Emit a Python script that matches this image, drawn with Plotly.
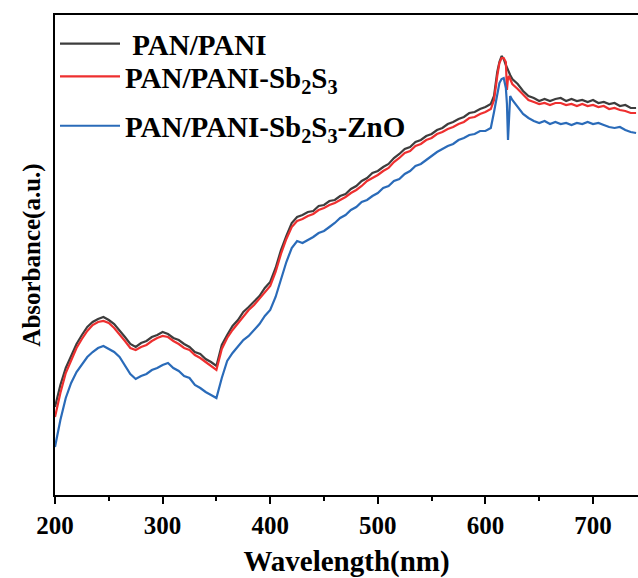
import plotly.graph_objects as go

# Wavelength grid (nm), shared by all three spectra
wavelength = list(range(200, 610, 5)) + [608, 611, 613, 615, 617, 619, 620, 621, 622, 623] + list(range(625, 745, 5))

# UV-Vis absorbance (a.u.)
pan_pani = [
    0.88, 1.10, 1.27, 1.39, 1.51, 1.60, 1.68, 1.73, 1.76, 1.78,
    1.75, 1.71, 1.65, 1.58, 1.51, 1.48, 1.52, 1.54, 1.58, 1.60,
    1.63, 1.61, 1.57, 1.55, 1.51, 1.48, 1.43, 1.41, 1.36, 1.33,
    1.29, 1.50, 1.60, 1.69, 1.75, 1.83, 1.88, 1.94, 1.99, 2.07,
    2.13, 2.27, 2.45, 2.59, 2.72, 2.78, 2.80, 2.83, 2.84, 2.89,
    2.90, 2.94, 2.95, 2.99, 3.01, 3.06, 3.09, 3.14, 3.17, 3.22,
    3.24, 3.28, 3.31, 3.37, 3.41, 3.46, 3.48, 3.53, 3.55, 3.59,
    3.61, 3.65, 3.67, 3.71, 3.73, 3.76, 3.78, 3.82, 3.83, 3.86,
    3.88, 3.91,
    3.99, 4.23, 4.33, 4.39, 4.36, 4.30, 4.27, 4.24, 4.22, 4.20,
    4.16, 4.11, 4.04, 3.99, 3.97, 3.94, 3.96, 3.94, 3.96, 3.97,
    3.94, 3.96, 3.94, 3.95, 3.93, 3.95, 3.92, 3.93, 3.91, 3.92,
    3.89, 3.90, 3.87, 3.87,
]

pan_pani_sb2s3 = [
    0.78, 1.02, 1.22, 1.35, 1.47, 1.56, 1.64, 1.70, 1.73, 1.74,
    1.72, 1.67, 1.61, 1.54, 1.47, 1.45, 1.48, 1.50, 1.54, 1.57,
    1.59, 1.58, 1.54, 1.51, 1.47, 1.45, 1.40, 1.37, 1.33, 1.29,
    1.25, 1.46, 1.57, 1.65, 1.72, 1.79, 1.85, 1.90, 1.96, 2.03,
    2.09, 2.23, 2.41, 2.56, 2.68, 2.74, 2.76, 2.79, 2.81, 2.85,
    2.87, 2.90, 2.92, 2.95, 2.98, 3.02, 3.05, 3.09, 3.14, 3.17,
    3.20, 3.24, 3.27, 3.33, 3.37, 3.42, 3.44, 3.49, 3.51, 3.55,
    3.57, 3.61, 3.63, 3.66, 3.68, 3.71, 3.73, 3.77, 3.78, 3.81,
    3.83, 3.86,
    3.95, 4.19, 4.32, 4.37, 4.37, 4.33, 4.05, 4.17, 4.19, 4.16,
    4.11, 4.06, 4.00, 3.95, 3.93, 3.91, 3.92, 3.90, 3.92, 3.92,
    3.90, 3.91, 3.89, 3.91, 3.89, 3.90, 3.88, 3.89, 3.86, 3.87,
    3.85, 3.84, 3.82, 3.82,
]

pan_pani_sb2s3_zno = [
    0.48, 0.75, 0.97, 1.12, 1.23, 1.31, 1.38, 1.43, 1.47, 1.49,
    1.46, 1.43, 1.38, 1.30, 1.21, 1.16, 1.19, 1.21, 1.25, 1.27,
    1.30, 1.32, 1.27, 1.24, 1.19, 1.17, 1.10, 1.07, 1.03, 1.00,
    0.97, 1.17, 1.34, 1.42, 1.48, 1.55, 1.59, 1.65, 1.71, 1.79,
    1.85, 1.98, 2.16, 2.33, 2.47, 2.54, 2.52, 2.55, 2.58, 2.62,
    2.64, 2.68, 2.72, 2.77, 2.80, 2.85, 2.88, 2.93, 2.95, 2.99,
    3.02, 3.07, 3.09, 3.14, 3.16, 3.21, 3.24, 3.29, 3.31, 3.35,
    3.39, 3.43, 3.46, 3.49, 3.51, 3.55, 3.57, 3.60, 3.61, 3.64,
    3.64, 3.67,
    3.83, 4.03, 4.12, 4.16, 4.17, 4.07, 3.91, 3.55, 3.87, 3.99,
    3.95, 3.88, 3.81, 3.77, 3.74, 3.72, 3.74, 3.71, 3.73, 3.71,
    3.72, 3.70, 3.72, 3.71, 3.73, 3.71, 3.72, 3.70, 3.68, 3.67,
    3.68, 3.65, 3.63, 3.62,
]

series_names = [
    "\u00a0PAN/PANI",
    "PAN/PANI-Sb<sub>2</sub>S<sub>3</sub>",
    "PAN/PANI-Sb<sub>2</sub>S<sub>3</sub>-ZnO",
]
series_values = [pan_pani, pan_pani_sb2s3, pan_pani_sb2s3_zno]
series_colors = ["#3d3d3d", "#ee2f2f", "#2a6bb9"]
legend_ids = ["legend", "legend2", "legend3"]

x_ticks = [200, 300, 400, 500, 600, 700]

SERIF = "Liberation Serif"

fig = go.Figure()
for name, vals, color, lg in zip(series_names, series_values, series_colors, legend_ids):
    fig.add_trace(go.Scatter(
        x=wavelength, y=vals, mode="lines", name=name, showlegend=True,
        line=dict(color=color, width=2.2), legend=lg,
    ))

legend_font = dict(family=SERIF, size=29, color="black", weight="bold")
legend_common = dict(xanchor="left", yanchor="middle", bgcolor="rgba(0,0,0,0)",
                     font=legend_font, itemwidth=60, borderwidth=0, visible=True)

fig.update_layout(
    width=638, height=578,
    showlegend=True,
    margin=dict(l=55, r=0, t=15, b=83),
    paper_bgcolor="white", plot_bgcolor="white",
    legend=dict(x=0.0, y=0.940, **legend_common),
    legend2=dict(x=0.0, y=0.872, **legend_common),
    legend3=dict(x=0.0, y=0.769, **legend_common),
    xaxis=dict(
        range=[200, 741.8], tickmode="array", tickvals=x_ticks,
        ticks="outside", ticklen=7, tickwidth=2, tickcolor="black",
        minor=dict(ticks="outside", ticklen=4, tickwidth=2, tickcolor="black", dtick=50),
        showline=True, linewidth=2, linecolor="black", mirror=True,
        showgrid=False, zeroline=False,
        tickfont=dict(family=SERIF, size=25, color="black", weight="bold"),
        title=dict(text="Wavelength(nm)", standoff=16,
                   font=dict(family=SERIF, size=29, color="black", weight="bold")),
    ),
    yaxis=dict(
        range=[0, 4.8], showticklabels=False, ticks="",
        showline=True, linewidth=2, linecolor="black", mirror=False,
        showgrid=False, zeroline=False,
        title=dict(text="Absorbance(a.u.)", standoff=5,
                   font=dict(family=SERIF, size=25, color="black", weight="bold")),
    ),
)

fig.write_html("out.html")
